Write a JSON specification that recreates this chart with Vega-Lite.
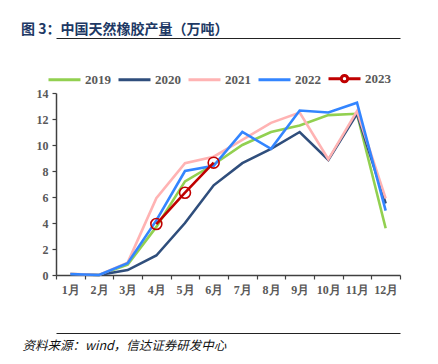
{
  "$schema": "https://vega.github.io/schema/vega-lite/v6.json",
  "autosize": "none",
  "width": 344,
  "height": 182,
  "padding": {"left": 56, "top": 93, "right": 38, "bottom": 89},
  "background": "white",
  "title": {
    "text": "图 3：中国天然橡胶产量（万吨）",
    "anchor": "start",
    "frame": "group",
    "dx": -35,
    "offset": 1,
    "font": "Noto Sans CJK SC",
    "fontWeight": "bold",
    "fontSize": 14,
    "color": "#203864"
  },
  "config": {
    "view": {"stroke": null},
    "axis": {
      "labelFont": "Liberation Serif",
      "labelFontWeight": "bold",
      "labelFontSize": 12,
      "labelColor": "#595959",
      "domainColor": "#404040",
      "tickColor": "#404040",
      "domainWidth": 1.5,
      "tickWidth": 1.2,
      "tickSize": 4,
      "grid": false
    },
    "legend": {
      "labelFont": "Liberation Serif",
      "labelFontWeight": "bold",
      "labelFontSize": 13,
      "labelColor": "#595959"
    }
  },
  "data": {
    "values": [
      {"month": "1月", "year": "2019", "value": 0.08},
      {"month": "2月", "year": "2019", "value": 0.0},
      {"month": "3月", "year": "2019", "value": 0.8},
      {"month": "4月", "year": "2019", "value": 3.7},
      {"month": "5月", "year": "2019", "value": 7.2},
      {"month": "6月", "year": "2019", "value": 8.5},
      {"month": "7月", "year": "2019", "value": 10.0},
      {"month": "8月", "year": "2019", "value": 11.0},
      {"month": "9月", "year": "2019", "value": 11.5},
      {"month": "10月", "year": "2019", "value": 12.3},
      {"month": "11月", "year": "2019", "value": 12.4},
      {"month": "12月", "year": "2019", "value": 3.6},
      {"month": "1月", "year": "2020", "value": 0.05},
      {"month": "2月", "year": "2020", "value": 0.0},
      {"month": "3月", "year": "2020", "value": 0.38},
      {"month": "4月", "year": "2020", "value": 1.5},
      {"month": "5月", "year": "2020", "value": 4.0},
      {"month": "6月", "year": "2020", "value": 6.9},
      {"month": "7月", "year": "2020", "value": 8.6},
      {"month": "8月", "year": "2020", "value": 9.7},
      {"month": "9月", "year": "2020", "value": 11.0},
      {"month": "10月", "year": "2020", "value": 8.85},
      {"month": "11月", "year": "2020", "value": 12.4},
      {"month": "12月", "year": "2020", "value": 5.5},
      {"month": "1月", "year": "2021", "value": 0.1},
      {"month": "2月", "year": "2021", "value": 0.0},
      {"month": "3月", "year": "2021", "value": 0.95},
      {"month": "4月", "year": "2021", "value": 5.9},
      {"month": "5月", "year": "2021", "value": 8.6},
      {"month": "6月", "year": "2021", "value": 9.1},
      {"month": "7月", "year": "2021", "value": 10.4},
      {"month": "8月", "year": "2021", "value": 11.7},
      {"month": "9月", "year": "2021", "value": 12.5},
      {"month": "10月", "year": "2021", "value": 8.9},
      {"month": "11月", "year": "2021", "value": 12.6},
      {"month": "12月", "year": "2021", "value": 5.9},
      {"month": "1月", "year": "2022", "value": 0.08},
      {"month": "2月", "year": "2022", "value": 0.0},
      {"month": "3月", "year": "2022", "value": 0.9},
      {"month": "4月", "year": "2022", "value": 4.2},
      {"month": "5月", "year": "2022", "value": 8.0},
      {"month": "6月", "year": "2022", "value": 8.4},
      {"month": "7月", "year": "2022", "value": 11.0},
      {"month": "8月", "year": "2022", "value": 9.7},
      {"month": "9月", "year": "2022", "value": 12.65},
      {"month": "10月", "year": "2022", "value": 12.5},
      {"month": "11月", "year": "2022", "value": 13.25},
      {"month": "12月", "year": "2022", "value": 4.95},
      {"month": "4月", "year": "2023", "value": 3.92},
      {"month": "5月", "year": "2023", "value": 6.33},
      {"month": "6月", "year": "2023", "value": 8.64}
    ]
  },
  "encoding": {
    "x": {
      "field": "month",
      "type": "ordinal",
      "sort": ["1月","2月","3月","4月","5月","6月","7月","8月","9月","10月","11月","12月"],
      "scale": {"type": "band", "paddingInner": 0, "paddingOuter": 0}
    },
    "y": {
      "field": "value",
      "type": "quantitative",
      "scale": {"domain": [0, 14]},
      "axis": {"values": [0, 2, 4, 6, 8, 10, 12, 14], "title": null, "labelPadding": 4}
    }
  },
  "layer": [
    {
      "transform": [{"filter": "datum.year !== '2023'"}],
      "mark": {"type": "line", "strokeWidth": 2.6},
      "encoding": {
        "x": {
          "field": "month",
          "type": "ordinal",
          "sort": ["1月","2月","3月","4月","5月","6月","7月","8月","9月","10月","11月","12月"],
          "axis": {
            "labelAngle": 0,
            "tickBand": "extent",
            "labelPadding": 5,
            "title": "资料来源：wind，信达证券研发中心",
            "titleFont": "Noto Sans CJK SC",
            "titleFontStyle": "italic",
            "titleFontWeight": "normal",
            "titleFontSize": 12.5,
            "titleColor": "#111111",
            "titleAlign": "left",
            "titleAnchor": "start",
            "titleBaseline": "middle",
            "titleX": -34,
            "titleY": 70
          }
        },
        "color": {
          "field": "year",
          "type": "nominal",
          "scale": {
            "domain": ["2019", "2020", "2021", "2022", "2023"],
            "range": ["#92D050", "#2F4E7C", "#FFB3B3", "#3385FF", "#C00000"]
          },
          "legend": {
            "title": null,
            "orient": "none",
            "direction": "horizontal",
            "legendX": -9,
            "legendY": -32,
            "padding": 0,
            "symbolType": "stroke",
            "symbolSize": 1024,
            "symbolStrokeWidth": 3,
            "labelOffset": 3,
            "columnPadding": 1,
            "encode": {
              "symbols": {
                "update": {
                  "shape": {"signal": "datum.value === '2023' ? 'M-1,0L-0.2,0M0.2,0L1,0M0.2,0A0.2,0.2,0,1,1,-0.2,0A0.2,0.2,0,1,1,0.2,0' : 'stroke'"},
                  "fill": {"value": "transparent"}
                }
              }
            }
          }
        }
      }
    },
    {
      "transform": [{"filter": "datum.year === '2023'"}],
      "mark": {"type": "line", "strokeWidth": 2.6, "color": "#C00000"},
      "encoding": {
        "x": {
          "field": "month",
          "type": "ordinal",
          "sort": ["1月","2月","3月","4月","5月","6月","7月","8月","9月","10月","11月","12月"],
          "axis": {"orient": "bottom", "offset": 58, "labels": false, "ticks": false, "title": null, "domainColor": "#222222", "domainWidth": 1}
        }
      }
    },
    {
      "transform": [{"filter": "datum.year === '2023'"}],
      "mark": {"type": "point", "shape": "circle", "size": 120, "filled": false, "stroke": "#C00000", "strokeWidth": 1.6, "opacity": 1},
      "encoding": {
        "x": {
          "field": "month",
          "type": "ordinal",
          "sort": ["1月","2月","3月","4月","5月","6月","7月","8月","9月","10月","11月","12月"],
          "axis": {"orient": "top", "offset": 55, "labels": false, "ticks": false, "title": null, "domainColor": "#222222", "domainWidth": 1}
        }
      }
    }
  ],
  "resolve": {"axis": {"x": "independent"}}
}
